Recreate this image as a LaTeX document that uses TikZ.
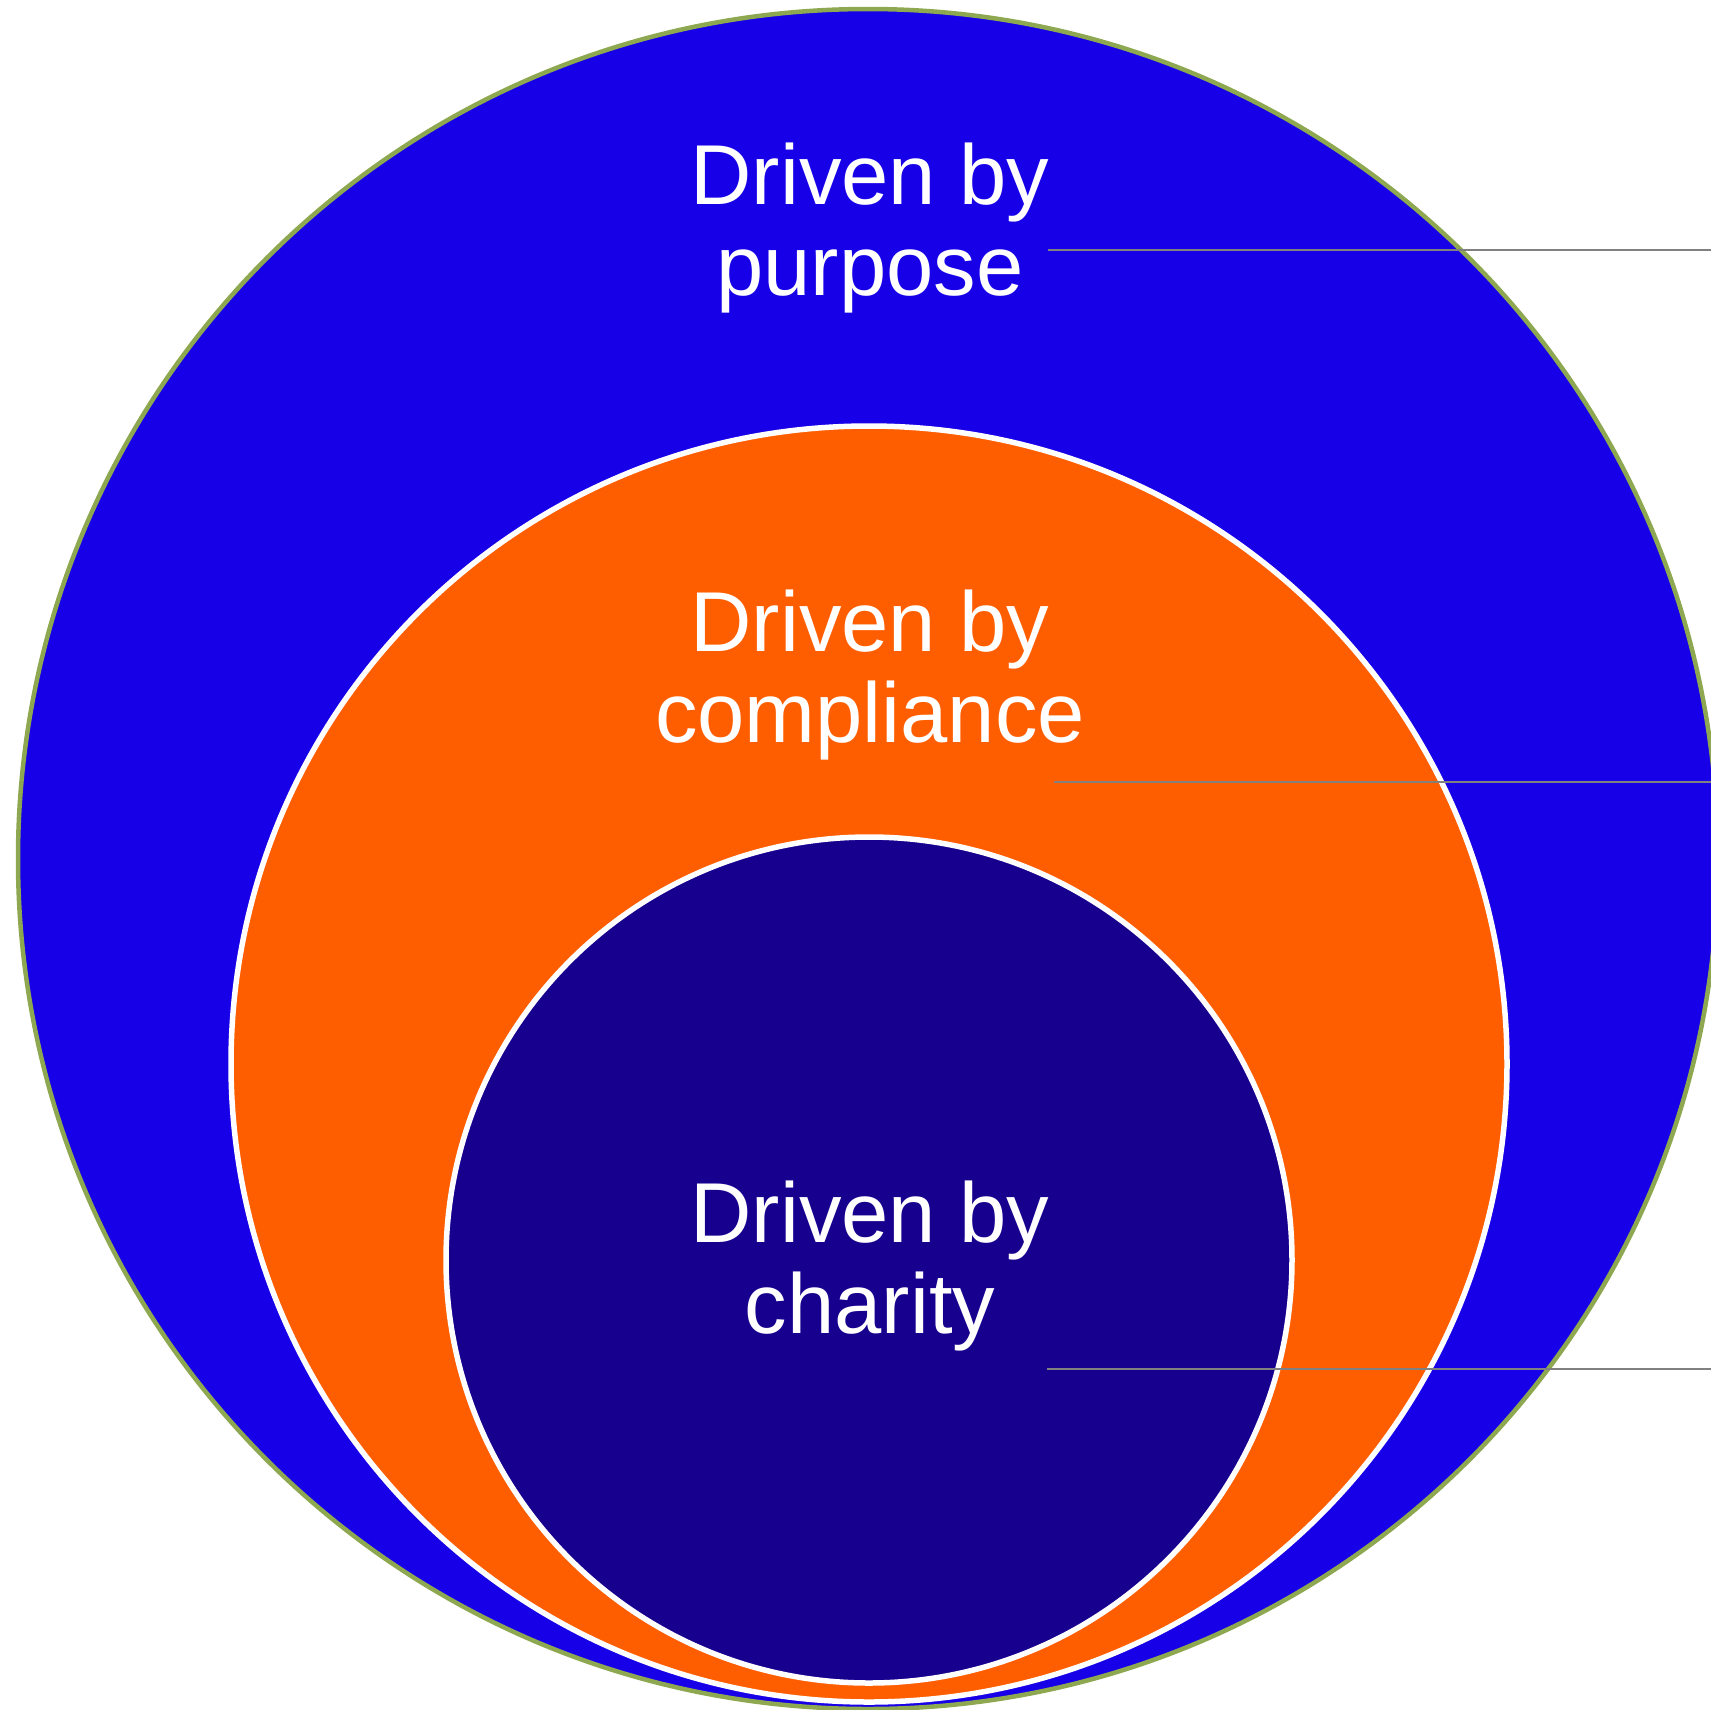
\documentclass[tikz,border=0pt]{standalone}
\usepackage{fontspec}
\setmainfont{Liberation Sans}
\definecolor{outerblue}{RGB}{23,0,232}
\definecolor{midorange}{RGB}{255,94,0}
\definecolor{innerpurple}{RGB}{24,0,143}
\definecolor{rimgreen}{RGB}{141,168,80}
\definecolor{leadgray}{RGB}{128,128,128}
\tikzset{
  ring/.style={circle, inner sep=0pt, outer sep=0pt},
  label text/.style={text=white, align=center, inner sep=0pt, anchor=north,
    font=\fontsize{85}{91}\selectfont},
  leader/.style={draw=leadgray, line width=2.2pt}
}
\begin{document}
\begin{tikzpicture}[x=1pt,y=-1pt]
\useasboundingbox (0,0) rectangle (1711,1709);
\node[ring, fill=outerblue, draw=rimgreen, line width=4.5pt, minimum size=1700pt] (outer) at (868,859) {};
\node[ring, fill=midorange, draw=white, line width=5.5pt, minimum size=1276pt] (middle) at (869,1064) {};
\node[ring, fill=innerpurple, draw=white, line width=5.5pt, minimum size=846pt] (inner) at (869,1260) {};
\node[label text] (purpose) at (870,143) {Driven by\\purpose};
\node[label text] (compliance) at (870,590) {Driven by\\compliance};
\node[label text] (charity) at (870,1181) {Driven by\\charity};
\coordinate (p1) at (1048,250);
\coordinate (p2) at (1711,250);
\coordinate (c1) at (1054,782);
\coordinate (c2) at (1711,782);
\coordinate (h1) at (1047,1369);
\coordinate (h2) at (1711,1369);
\draw[leader] (p1) -- (p2);
\draw[leader] (c1) -- (c2);
\draw[leader] (h1) -- (h2);
\end{tikzpicture}
\end{document}
